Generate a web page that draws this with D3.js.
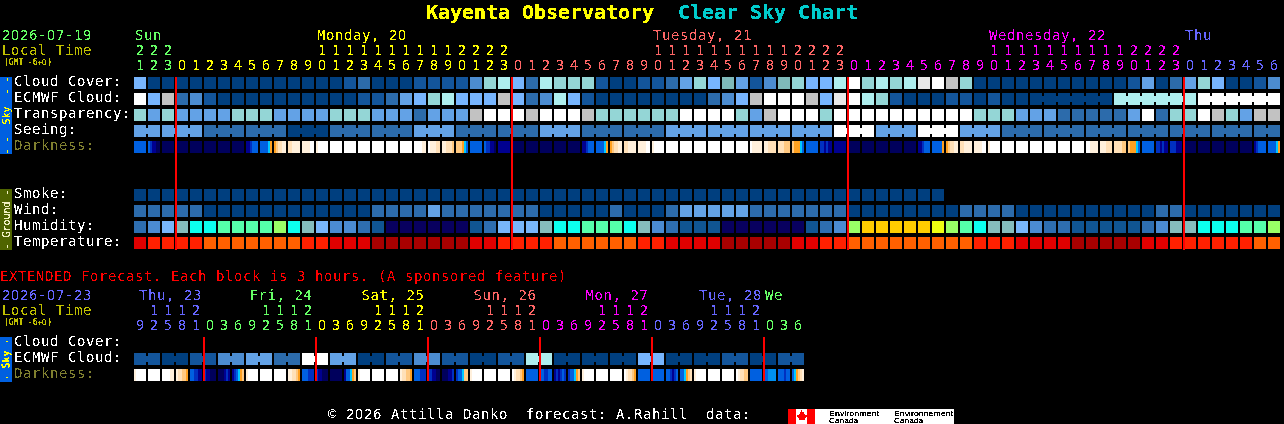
<!DOCTYPE html>
<html><head><meta charset="utf-8">
<script src="https://cdn.jsdelivr.net/npm/d3@7"></script>
<style>
@font-face{font-family:"Mix";src:local("Noto Sans"),local("NotoSans-Regular");unicode-range:U+30;}
html,body{margin:0;background:#000;overflow:hidden}
svg{display:block}
text{font-family:"Mix","DejaVu Sans Mono",monospace;white-space:pre}
</style></head><body>
<svg id="c" width="1284" height="424" viewBox="0 0 1284 424"></svg>
<script>
// ---------- data ----------
const hours=[21,22,23,
0,1,2,3,4,5,6,7,8,9,10,11,12,13,14,15,16,17,18,19,20,21,22,23,
0,1,2,3,4,5,6,7,8,9,10,11,12,13,14,15,16,17,18,19,20,21,22,23,
0,1,2,3,4,5,6,7,8,9,10,11,12,13,14,15,16,17,18,19,20,21,22,23,
0,1,2,3,4,5,6];
const dayColors=["#66ff66","#ffff00","#ff6666","#ff00ff","#6666ff"];
const dayNames=["Sun","Monday, 20","Tuesday, 21","Wednesday, 22","Thu"];
const dayCols=[0,13,37,61,75];

const extHours=[9,12,15,18,21,
0,3,6,9,12,15,18,21, 0,3,6,9,12,15,18,21, 0,3,6,9,12,15,18,21,
0,3,6,9,12,15,18,21, 0,3,6,9,12,15,18,21, 0,3,6];
const extDayColors=["#6666ff","#66ff66","#ffff00","#ff6666","#ff00ff","#6666ff","#66ff66"];
const extDayNames=["Thu, 23","Fri, 24","Sat, 25","Sun, 26","Mon, 27","Tue, 28","We"];
const extDayCols=[0,8,16,24,32,40,45];

// shared sky level colours, dark (clear) to white (overcast)
const skyLevels=["#003f7f","#13559b","#2c6bab","#4c8cd0","#63a2e6","#77b5fe","#7fbaba","#94d6d6","#aeeeee","#c2c2c2","#e8e8e8","#ffffff"];
const humidityColors=["#08005f","#105592","#2e6eb0","#4b8bd1","#78b6fa","#85bdbd","#0cffee","#55ffaa","#99ff66","#eeff11","#ffcc00"];
const temperatureColors=["#a80000","#e00000","#ff2000","#ff6000"];
const darkColors={n:"#00005c",m:"#000090",b:"#0030c0",B:"#0060e0",l:"#0090f0",c:"#00c8ff",o:"#ffa020",p:"#ffc880",q:"#ffe0b8",r:"#fff0dc",w:"#ffffff"};

const cloudCover=[5,0,0,0,0,0,0,0,0,0,0,0,0,0,0,1,2,0,0,0,1,
1,1,1,3,7,8,5,2,8,7,7,7,1,0,0,1,1,2,4,7,5,6,4,1,3,6,7,5,5,8,11,
7,8,7,8,10,11,9,7,0,0,0,0,0,0,0,0,0,0,0,1,4,0,2,4,7,5,0,0,1,3];
const ecmwfCloud=[11,5,9,2,3,1,0,0,0,0,0,0,0,0,0,0,1,1,2,4,5,
7,8,5,5,5,9,5,2,3,8,5,1,0,0,0,0,0,0,0,0,2,3,5,9,11,11,11,9,5,10,11,
8,7,1,0,0,0,1,1,0,1,0,0,0,0,0,0,0,0,8,8,8,8,8,8,11,11,11,11,11,11];
const ecmwfGroups=[1,1,1,1,1,1,1,1,1,1,1,1,1,1,1,1,1,1,1,1,1,
1,1,1,1,1,1,1,1,1,1,1,1,1,1,1,1,1,1,1,1,1,1,1,1,1,1,1,1,1,1,1,
1,1,1,1,1,1,1,1,1,1,1,1,6,6,6];
const transparency=[7,4,7,4,4,4,4,7,7,7,4,4,4,4,7,7,7,4,4,4,2,
4,4,4,9,11,11,11,9,11,11,11,9,7,7,7,7,7,7,11,11,11,11,7,4,9,11,11,11,7,11,11,
11,11,11,11,11,11,11,11,7,7,7,4,4,4,2,2,2,2,2,4,11,2,7,7,11,9,7,4,9,9];
const seeing=[4,4,4,4,4,2,2,2,2,2,2,0,0,0,2,2,2,2,2,2,4,4,4,2,2,2,2,2,2,4,4,4,2,2,2,2,2,2,
4,4,4,4,4,4,4,4,4,4,4,4,11,11,11,4,4,4,11,11,11,4,4,4,2,2,2,2,2,2,2,2,2,2,2,2,2,2,2,2,2,2,2,2];
const seeingGroups=[2,3,3,3,3,3,3,3,3,3,3,3,3,3,3,3,3,3,3,3,3,3,3,3,3,3,3,2];
const darkness=["BBBBBB","Bbmmnn","nnnnnn","nnnnnn","nnnnnn","nnnnnn","nnnnnn","nnnnnn","mmbBBB","BBBBco",
"opqqrr","qqrrrr","rrrrww","rwwwww","wwwwww","wwwwww","wwwwww","wwwwww","wwwwww","wwwwww","wwwwrr","wrrrqq","rrqqqp","pppocB",
"BBBBBB","Bbbmmn","mmmmmm","nnnnnn","nnnnnn","nnnnnn","nnnnnn","nnnnnn","mmbBBB","BBBBco",
"opqqrr","qqrrrr","rrrrww","rwwwww","wwwwww","wwwwww","wwwwww","wwwwww","wwwwww","wwwwww","wrrrrr","rrqqqq","qqqppp","pooocB",
"BBBBBB","bbmbmm","mmmmmm","nnnnnn","nnnnnn","nnnnnn","nnnnnn","nnnnnn","mmbBBB","BBBBBo",
"opqqrr","qqrrrr","rrrrww","rwwwww","wwwwww","wwwwww","wwwwww","wwwwww","wwwwww","wwwwww","wwrrrr","rrrqqq","qqqqpp","pooocB",
"BBBBBB","bbmbmm","bbbmmm","nnnnnn","nnnnnn","nnnnnn","nnnnnn","nnnnnn","mbBBBB","BBBBco"];
const smoke=[0,0,0,0,0,0,0,0,0,0,0,0,0,0,0,0,0,0,0,0,0,0,0,0,0,0,0,0,0,0,0,0,0,0,0,0,0,0,0,0,0,0,0,0,0,0,0,0,0,0,0,0,0,0,0,0,0,0];
const wind=[2,2,2,2,2,0,0,0,0,0,0,0,0,0,0,0,0,2,2,2,2,
4,2,2,2,2,2,2,2,0,0,0,0,0,2,0,0,0,2,4,4,4,4,4,2,2,2,2,2,2,2,0,
0,0,0,0,0,0,0,2,2,2,2,0,0,0,0,0,0,0,0,0,0,2,2,0,0,0,0,0,0,0];
const humidity=[2,3,4,5,6,6,7,7,7,7,8,6,5,4,3,3,2,1,0,0,0,
0,0,0,1,2,4,4,4,5,6,6,7,7,7,6,5,3,2,1,1,1,0,0,0,0,0,0,1,2,3,8,
10,10,10,10,10,9,8,7,6,5,5,4,3,2,2,1,1,1,1,1,2,3,5,5,6,6,6,7,7,8];
const temperature=[1,2,2,2,2,3,3,3,3,3,3,3,2,2,1,1,1,0,0,0,0,
0,0,0,1,1,2,2,2,2,3,3,3,3,3,3,2,2,1,1,1,1,0,0,0,0,0,1,1,2,2,3,
3,3,3,3,3,3,3,3,2,2,2,1,1,1,1,0,0,0,0,0,1,1,2,2,2,2,2,2,3,3];

const extEcmwf=[1,1,0,0,1,1,3,3,4,4,2,2,11,11,4,4,0,0,1,1,3,3,1,1,0,0,1,1,8,8,0,0,0,0,0,0,5,5,0,0,0,0,1,1,0,0,1,1];
const extGroups=[2,2,2,2,2,2,2,2,2,2,2,2,2,2,2,2,2,2,2,2,2,2,2,2];
const extDarkness=["rwwwww","wwwwww","wwwwrr","rqqppo","BBbbmm","bmmnnn","nnnmbm","mbBcop",
"rwwwww","wwwwww","wwwwww","rrqqpo","BBBbbb","bmmnnn","nnnnnn","mBBcop",
"rwwwww","wwwwww","wwwwww","rqqppo","BBBbbb","bbmmnn","nnnmmb","bBBcpp",
"rwwwww","wwwwww","wwwwww","wrqqpo","BBBBBB","BBbbBB","mbmbBb","bBBcop",
"rwwwww","wwwwww","wwwwww","wrqqpo","BBBBBB","BBBBBB","BBbmbB","BBcopq",
"rwwwww","wwwwww","wwwwww","wrqqpp","BBBBBB","BBllll","BBBbBB","Bcopqr"];

// ---------- layout ----------
const svg=d3.select("#c");
const GRID_X=134, STEP=14, CELL=12, RSTEP=16, FONT=14;
const x=d3.scaleBand().domain(d3.range(hours.length)).range([GRID_X,GRID_X+STEP*hours.length-(STEP-CELL)]).paddingInner((STEP-CELL)/STEP).paddingOuter(0);
const xExt=d3.scaleBand().domain(d3.range(extHours.length)).range([GRID_X,GRID_X+STEP*extHours.length-(STEP-CELL)]).paddingInner((STEP-CELL)/STEP).paddingOuter(0);
function rowScale(names,top){return d3.scaleBand().domain(names).range([top,top+RSTEP*names.length-(RSTEP-CELL)]).paddingInner((RSTEP-CELL)/RSTEP).paddingOuter(0);}
const skyRows=["Cloud Cover:","ECMWF Cloud:","Transparency:","Seeing:","Darkness:"];
const groundRows=["Smoke:","Wind:","Humidity:","Temperature:"];
const extRows=["Cloud Cover:","ECMWF Cloud:","Darkness:"];
const ySky=rowScale(skyRows,77), yGround=rowScale(groundRows,189), yExt=rowScale(extRows,337);

const defs=svg.append("defs");
function aliasFilter(id,cut){
  const table=d3.range(20).map(i=>(i/20>=cut?1:0)).join(" ");
  defs.append("filter").attr("id",id).attr("filterUnits","userSpaceOnUse").attr("x",0).attr("y",0).attr("width",1284).attr("height",424)
    .append("feComponentTransfer").append("feFuncA").attr("type","discrete").attr("tableValues",table);
}
aliasFilter("alias",0.5);
aliasFilter("aliasHeavy",0.35);

const cells=svg.append("g");
const textG=svg.append("g").attr("filter","url(#alias)");
const heavyG=svg.append("g").attr("filter","url(#aliasHeavy)");

function drawRow(values,xs,y,colorOf,groups){
  const g=cells.append("g").attr("shape-rendering","crispEdges");
  g.selectAll("rect").data(values).join("rect")
    .attr("x",(d,i)=>xs(i)).attr("y",y).attr("width",xs.bandwidth()).attr("height",CELL).attr("fill",colorOf);
  if(groups){
    let i=0; const links=[];
    groups.forEach(n=>{for(let k=1;k<n;k++)links.push(i+k);i+=n;});
    g.selectAll("rect.link").data(links).join("rect").attr("class","link")
      .attr("x",i=>xs(i)-(STEP-CELL)).attr("y",y+3).attr("width",STEP-CELL).attr("height",CELL-6).attr("fill",i=>colorOf(values[i]));
  }
}
function drawDark(values,xs,y){
  const g=cells.append("g").attr("shape-rendering","crispEdges");
  values.forEach((s,i)=>{
    const w=xs.bandwidth()/s.length;
    g.selectAll(null).data(s.split("")).join("rect")
      .attr("x",(c,k)=>xs(i)+k*w).attr("y",y).attr("width",w).attr("height",CELL).attr("fill",c=>darkColors[c]);
  });
}
const sky=d=>skyLevels[d];
drawRow(cloudCover,x,ySky("Cloud Cover:"),sky);
drawRow(ecmwfCloud,x,ySky("ECMWF Cloud:"),sky,ecmwfGroups);
drawRow(transparency,x,ySky("Transparency:"),sky);
drawRow(seeing,x,ySky("Seeing:"),sky,seeingGroups);
drawDark(darkness,x,ySky("Darkness:"));
drawRow(smoke,x,yGround("Smoke:"),sky);
drawRow(wind,x,yGround("Wind:"),sky);
drawRow(humidity,x,yGround("Humidity:"),d=>humidityColors[d]);
drawRow(temperature,x,yGround("Temperature:"),d=>temperatureColors[d]);
drawRow(extEcmwf,xExt,yExt("ECMWF Cloud:"),sky,extGroups);
drawDark(extDarkness,xExt,yExt("Darkness:"));

// midnight markers
const red=svg.append("g").attr("stroke","#ff0000").attr("stroke-width",2).attr("shape-rendering","crispEdges");
function midnight(hs,xs,y1,y2){
  red.append("g").selectAll("line").data(d3.range(hs.length).filter(i=>hs[i]===0)).join("line")
    .attr("x1",i=>xs(i)).attr("x2",i=>xs(i)).attr("y1",y1).attr("y2",y2);
}
midnight(hours,x,77,250);
midnight(extHours,xExt,337,381);

// text helper: fixed advance per character
function mono(str,px,py,size,fill,adv,weight,parent){
  const a=adv||9;
  return (parent||textG).append("text").attr("x",Array.from(str).map((c,i)=>px+i*a).join(" ")).attr("y",py)
    .attr("font-size",size).attr("fill",fill).attr("font-weight",weight||"normal").text(str);
}
// title
mono("Kayenta Observatory",426,19,20,"#ffff00",12,"bold",heavyG);
mono("Clear Sky Chart",678,19,20,"#00cccc",12,"bold",heavyG);

// header axes
function dayIndexes(hs){let d=0;return hs.map((h,i)=>{if(i>0&&h===0)d++;return d;});}
function hourAxes(hs,xs,colors,yTens,yUnits){
  const di=dayIndexes(hs);
  const units=textG.append("g").attr("transform",`translate(0,${yUnits})`)
    .call(d3.axisTop(xs).tickSize(0).tickPadding(0).tickFormat(i=>hs[i]%10));
  const tens=textG.append("g").attr("transform",`translate(0,${yTens})`)
    .call(d3.axisTop(xs).tickSize(0).tickPadding(0).tickFormat(i=>hs[i]>=10?Math.floor(hs[i]/10):""));
  [units,tens].forEach(g=>{
    g.attr("font-family",null).attr("font-size",FONT);
    g.select(".domain").remove();
    g.selectAll(".tick text").attr("fill",i=>colors[di[i]]);
  });
}
hourAxes(hours,x,dayColors,55,70);
hourAxes(extHours,xExt,extDayColors,315,330);

dayNames.forEach((n,i)=>mono(n,x(dayCols[i])+1,40,FONT,dayColors[i]));
extDayNames.forEach((n,i)=>mono(n,xExt(extDayCols[i])+(n.length<3?1:n[0]==="T"?5:3.5),300,FONT,extDayColors[i]));

mono("2026-07-19",2,40,FONT,"#66ff66");
mono("Local Time",2,55,FONT,"#c0c000");
mono("(GMT -6+0)",4,65,8,"#c0c000",4.8,null,heavyG);
mono("2026-07-23",2,300,FONT,"#6666ff");
mono("Local Time",2,315,FONT,"#c0c000");
mono("(GMT -6+0)",4,325,8,"#c0c000",4.8,null,heavyG);
mono("EXTENDED Forecast. Each block is 3 hours. (A sponsored feature)",0,281,FONT,"#ff0000");

function rowLabels(names,y){
  names.forEach(n=>mono(n,14,y(n)+9,FONT,n==="Darkness:"?"#808030":"#ffffff"));
}
rowLabels(skyRows,ySky);rowLabels(groundRows,yGround);rowLabels(extRows,yExt);

// side bars
function sideBar(top,bottom,color,label,textColor,size){
  cells.append("rect").attr("x",0).attr("y",top).attr("width",12).attr("height",bottom-top).attr("fill",color);
  const cy=(top+bottom)/2;
  heavyG.append("text").attr("transform",`translate(9.5,${cy}) rotate(-90)`).attr("text-anchor","middle")
    .attr("font-size",size).attr("fill",textColor).text(label);
}
sideBar(77,154,"#0060e0","- -  Sky  - -","#ffff00",10);
sideBar(189,250,"#4f6400","- Ground -","#f0f0c0",10);
sideBar(337,382,"#0060e0","- Sky -","#ffff00",10);

// footer
mono("© 2026 Attilla Danko  forecast: A.Rahill  data:",328,419,FONT,"#ffffff");
// credit logo
const logo=svg.append("g").attr("shape-rendering","crispEdges");
logo.append("rect").attr("x",788).attr("y",409).attr("width",166).attr("height",15).attr("fill","#ffffff");
logo.append("rect").attr("x",788).attr("y",409).attr("width",8).attr("height",15).attr("fill","#ff0000");
logo.append("rect").attr("x",807).attr("y",409).attr("width",8).attr("height",15).attr("fill","#ff0000");
logo.append("path").attr("d","M801.5 410l1.5 2.5 1-.5-.5 3 1.5-1.5.5 1.2 1.5-.2-.5 1.7 .7.5-2.7 2.3.3 1-2.6-.4v2.4h-.4v-2.4l-2.6.4.3-1-2.7-2.3.7-.5-.5-1.7 1.5.2.5-1.2 1.5 1.5-.5-3 1 .5z").attr("fill","#ff0000");
const logoT=svg.append("g").attr("filter","url(#aliasHeavy)");
[["Environment",829,416,50],["Canada",829,423,29],["Environnement",894,416,59],["Canada",894,423,29]].forEach(d=>{
  logoT.append("text").attr("x",d[1]).attr("y",d[2]).attr("font-size",8).attr("fill","#000").style("font-family","'Liberation Sans'")
    .attr("textLength",d[3]).attr("lengthAdjust","spacingAndGlyphs").text(d[0]);
});
</script>
</body></html>
